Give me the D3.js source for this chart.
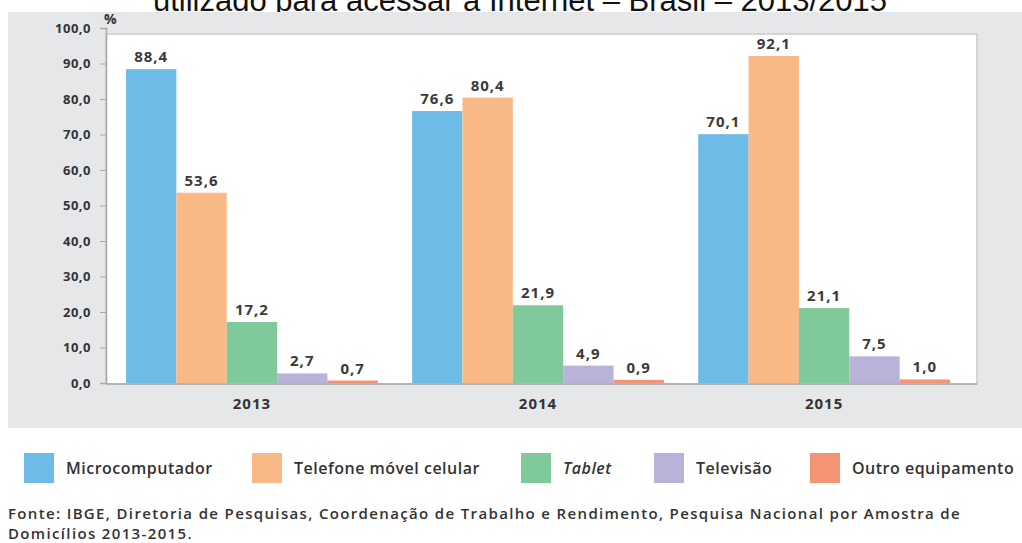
<!DOCTYPE html>
<html>
<head>
<meta charset="utf-8">
<script src="https://cdn.jsdelivr.net/npm/d3@7"></script>
<style>
  body { margin: 0; background: #fff; }
  svg { display: block; }
</style>
</head>
<body>
<svg id="chart" width="1022" height="543"></svg>
<script>
// Equipamento utilizado para acessar a Internet - Brasil - 2013/2015
const years = ['2013', '2014', '2015'];
const series = ['Microcomputador', 'Telefone móvel celular', 'Tablet', 'Televisão', 'Outro equipamento'];
const colors = ['#6fbbe7', '#f9b987', '#80c99a', '#b9b3d9', '#f59377'];
const values = [
  [88.4, 76.6, 70.1],
  [53.6, 80.4, 92.1],
  [17.2, 21.9, 21.1],
  [2.7, 4.9, 7.5],
  [0.7, 0.9, 1.0]
];
const yTicks = [0, 10, 20, 30, 40, 50, 60, 70, 80, 90, 100];

const fmt = v => d3.format('.1f')(v).replace('.', ',');
const chartFont = "'Open Sans', 'Liberation Sans', Arial, sans-serif";

const svg = d3.select('#chart');

// Title (cut off at the top in the reference)
svg.append('text')
  .attr('x', 520)
  .attr('y', 11)
  .attr('text-anchor', 'middle')
  .style('font-family', "'Liberation Sans', Arial, sans-serif")
  .style('font-size', '31px')
  .style('fill', '#111')
  .text('utilizado para acessar a Internet – Brasil – 2013/2015');

// Grey panel
svg.append('rect')
  .attr('x', 8).attr('y', 12)
  .attr('width', 1014).attr('height', 416)
  .attr('fill', '#e6e7e9');

const plot = { left: 106, right: 977, top: 34, bottom: 384 };

// White plot area
svg.append('rect')
  .attr('x', plot.left).attr('y', plot.top)
  .attr('width', plot.right - plot.left).attr('height', plot.bottom - plot.top)
  .attr('fill', '#fff')
  .attr('stroke', '#c9cacc')
  .attr('stroke-width', 1.5);

const x = d3.scaleBand()
  .domain(years)
  .range([plot.left, 970])
  .paddingInner(0.12)
  .paddingOuter(0.07);

const xs = d3.scaleBand()
  .domain(series)
  .range([0, x.bandwidth()]);

const y = d3.scaleLinear()
  .domain([0, 100])
  .range([383, 28]);

// Y axis
const yAxis = svg.append('g')
  .attr('transform', `translate(${plot.left},0)`)
  .call(d3.axisLeft(y).tickValues(yTicks).tickSize(6).tickPadding(9).tickFormat(fmt));
yAxis.select('.domain').attr('stroke', '#a9aaac').attr('stroke-width', 1.5);
yAxis.selectAll('.tick line').attr('stroke', '#a9aaac');
yAxis.selectAll('.tick text')
  .style('font-family', chartFont)
  .style('font-weight', 700)
  .style('font-size', '13px')
  .style('letter-spacing', '0.5px')
  .style('fill', '#333');

svg.append('text')
  .attr('x', 104).attr('y', 24)
  .style('font-family', chartFont)
  .style('font-weight', 700)
  .style('font-size', '14px')
  .style('fill', '#333')
  .text('%');

// Bars
const groups = svg.selectAll('.year')
  .data(years)
  .enter()
  .append('g')
  .attr('class', 'year')
  .attr('transform', d => `translate(${x(d)},0)`);

groups.each(function(year, yi) {
  const g = d3.select(this);
  const rows = series.map((s, si) => ({ s, si, v: values[si][yi] }));

  g.selectAll('rect')
    .data(rows)
    .enter()
    .append('rect')
    .attr('x', d => xs(d.s))
    .attr('width', xs.bandwidth())
    .attr('y', d => y(d.v))
    .attr('height', d => y(0) - y(d.v))
    .attr('fill', d => colors[d.si]);

  g.selectAll('.val')
    .data(rows)
    .enter()
    .append('text')
    .attr('class', 'val')
    .attr('x', d => xs(d.s) + xs.bandwidth() / 2)
    .attr('y', d => y(d.v) - 7)
    .attr('text-anchor', 'middle')
    .style('font-family', chartFont)
    .style('font-weight', 700)
    .style('font-size', '15px')
    .style('letter-spacing', '1px')
    .style('fill', '#3a3a3a')
    .text(d => fmt(d.v));
});

// X axis baseline and labels
svg.append('line')
  .attr('x1', plot.left).attr('x2', plot.right)
  .attr('y1', plot.bottom).attr('y2', plot.bottom)
  .attr('stroke', '#a9aaac').attr('stroke-width', 1.5);

svg.selectAll('.xlab')
  .data(years)
  .enter()
  .append('text')
  .attr('class', 'xlab')
  .attr('x', d => x(d) + x.bandwidth() / 2)
  .attr('y', 409)
  .attr('text-anchor', 'middle')
  .style('font-family', chartFont)
  .style('font-weight', 700)
  .style('font-size', '15px')
  .style('letter-spacing', '1px')
  .style('fill', '#333')
  .text(d => d);

// Legend
const legendX = [24, 252, 521, 654, 810];
const legend = svg.selectAll('.legend')
  .data(series)
  .enter()
  .append('g')
  .attr('class', 'legend')
  .attr('transform', (d, i) => `translate(${legendX[i]},453)`);

legend.append('rect')
  .attr('width', 30).attr('height', 30)
  .attr('fill', (d, i) => colors[i]);

legend.append('text')
  .attr('x', 42).attr('y', 21)
  .style('font-family', chartFont)
  .style('font-weight', 600)
  .style('font-size', '16px')
  .style('letter-spacing', '0.5px')
  .style('font-style', d => d === 'Tablet' ? 'italic' : 'normal')
  .style('fill', '#333')
  .text(d => d);

// Source
const source = svg.append('text')
  .attr('x', 8).attr('y', 519)
  .style('font-family', chartFont)
  .style('font-weight', 600)
  .style('font-size', '15px')
  .style('letter-spacing', '1.35px')
  .style('fill', '#333');
source.append('tspan')
  .attr('x', 8)
  .text('Fonte: IBGE, Diretoria de Pesquisas, Coordenação de Trabalho e Rendimento, Pesquisa Nacional por Amostra de');
source.append('tspan')
  .attr('x', 8).attr('dy', 20)
  .text('Domicílios 2013-2015.');
</script>
</body>
</html>
